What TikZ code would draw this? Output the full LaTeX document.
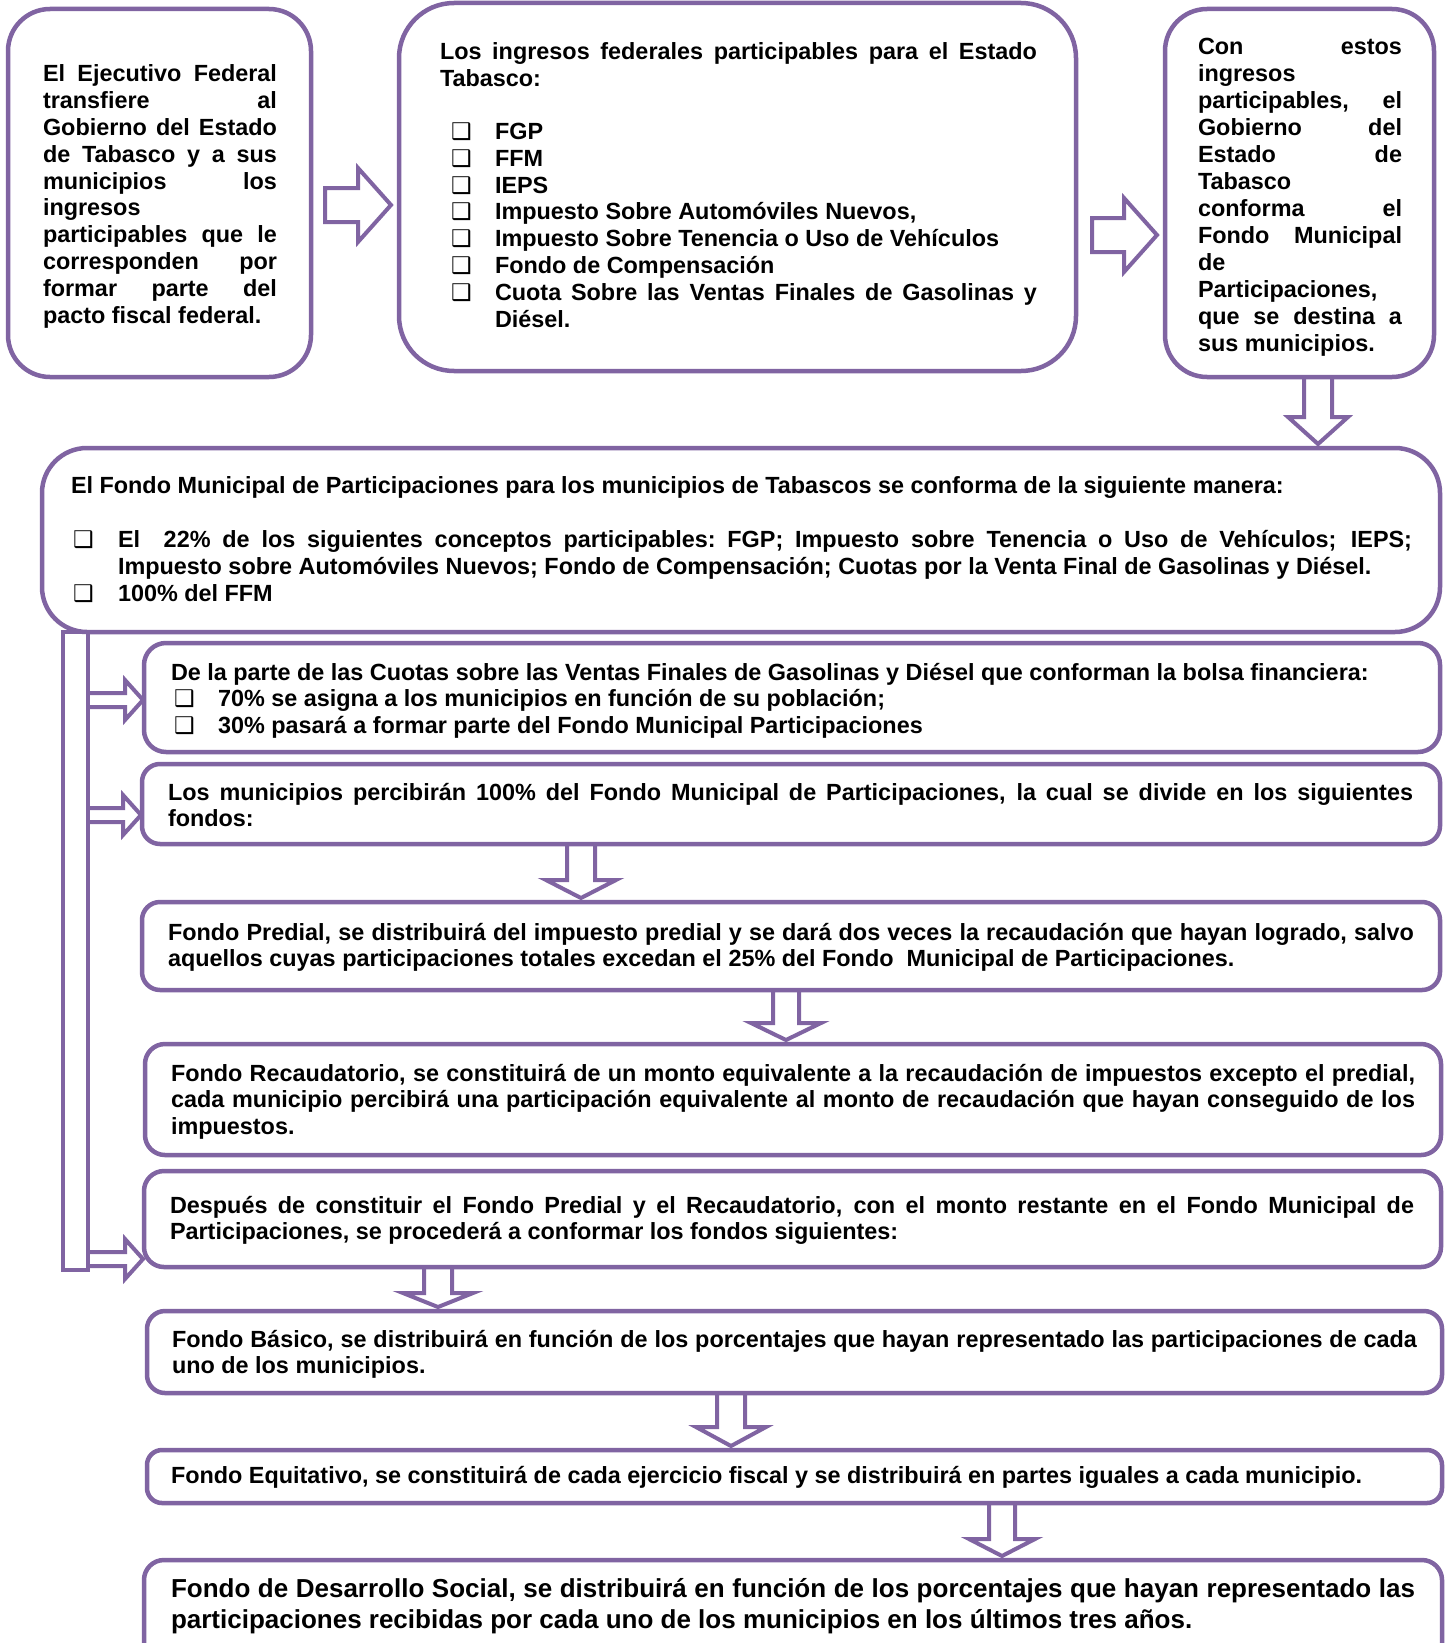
\documentclass[tikz,border=0pt]{standalone}
\usepackage{fontspec}
\setmainfont{Liberation Sans}
\newfontfamily\dejavu{DejaVu Sans}
\usetikzlibrary{calc}
\pgfdeclarelayer{bg}
\pgfsetlayers{bg,main}
\definecolor{pur}{RGB}{128,100,162}
\newlength\tw
\newcommand\SPa{\spaceskip=6.5pt plus 12pt minus 1.6pt\relax}
\newcommand\SPb{\spaceskip=7.2pt plus 12pt minus 1.6pt\relax}
\newcommand\JL[1]{\hbox to \tw{#1}}
\newcommand\LL[1]{\hbox to \tw{#1\hfil}}
\newcommand\BUL{{\dejavu\mdseries\fontsize{23}{23}\selectfont ❑}}
\newcommand\BJ[3]{\hbox to \tw{\hskip#1\relax\rlap{\BUL}\hskip#2\relax #3}}
\newcommand\BL[3]{\hbox to \tw{\hskip#1\relax\rlap{\BUL}\hskip#2\relax #3\hfil}}
\newcommand\CL[2]{\hbox to \tw{\hskip#1\relax #2\hfil}}
% down block arrow: cx, source node, target node, head length, shaft half, head half
\newcommand\DArr[6]{%
  \path (#1,0 |- #2.south) coordinate (ds);
  \path (#1,0 |- #3.north) coordinate (dt);
  \draw[arr] ($(ds)+(-#5,0)$) -- ($(dt)+(-#5,{-#4-4})$) -- ($(dt)+(-#6,{-#4-4})$) -- ($(dt)+(0,-4)$)
    -- ($(dt)+(#6,{-#4-4})$) -- ($(dt)+(#5,{-#4-4})$) -- ($(ds)+(#5,0)$);}
% right block arrow: y, source node, target node, gap at start, gap at end, head length, shaft half, head half
\newcommand\RArr[8]{%
  \path (#2.east |- 0,#1) coordinate (rs);
  \path (#3.west |- 0,#1) coordinate (re);
  \draw[arr] ($(rs)+(#4,-#7)$) -- ($(re)+({-#5-#6},-#7)$) -- ($(re)+({-#5-#6},-#8)$) -- ($(re)+(-#5,0)$)
    -- ($(re)+({-#5-#6},#8)$) -- ($(re)+({-#5-#6},#7)$) -- ($(rs)+(#4,#7)$) -- cycle;}
% small right arrow from the bar
\newcommand\SArr[2]{%
  \path (bar.east |- 0,#1) coordinate (ss);
  \path (#2.west |- 0,#1) coordinate (se);
  \draw[arr] ($(ss)+(0,-7)$) -- ($(se)+(-19,-7)$) -- ($(se)+(-19,-20)$) -- ($(se)+(-1,0)$)
    -- ($(se)+(-19,20)$) -- ($(se)+(-19,7)$) -- ($(ss)+(0,7)$);}
\begin{document}
\begin{tikzpicture}[x=1pt,y=-1pt,
  box/.style={draw=pur, line width=4.5pt, fill=white, inner sep=0pt, outer sep=0pt, anchor=north west},
  arr/.style={draw=pur, line width=4pt, fill=white, line join=miter},
  txt/.style={font=\fontsize{23.4}{26.8}\selectfont\bfseries, inner sep=0pt, outer sep=0pt, anchor=base west},
  txtb/.style={font=\fontsize{26}{31}\selectfont\bfseries, inner sep=0pt, outer sep=0pt, anchor=base west}]
\useasboundingbox (0,0) rectangle (1444,1643);
\begin{pgfonlayer}{bg}
\fill[white] (0,0) rectangle (1444,1643);
\end{pgfonlayer}

% bar
\node[box, minimum width=25pt, minimum height=638pt] (bar) at (63,632) {};

% boxes
\node[box, rounded corners=42pt, minimum width=303pt, minimum height=368pt] (b1) at (8,9) {};
\node[box, rounded corners=55pt, minimum width=677pt, minimum height=368pt] (b2) at (399,3) {};
\node[box, rounded corners=42pt, minimum width=269pt, minimum height=368pt] (b3) at (1165,9) {};
\node[box, rounded corners=45pt, minimum width=1398pt, minimum height=184pt] (b4) at (42,448) {};
\node[box, rounded corners=22pt, minimum width=1296pt, minimum height=109pt] (b5) at (144,643) {};
\node[box, rounded corners=18pt, minimum width=1298pt, minimum height=80pt] (b6) at (142,764) {};
\node[box, rounded corners=18pt, minimum width=1298pt, minimum height=88pt] (b7) at (142,902) {};
\node[box, rounded corners=20pt, minimum width=1296pt, minimum height=111pt] (b8) at (145,1044) {};
\node[box, rounded corners=20pt, minimum width=1297pt, minimum height=96pt] (b9) at (144,1171) {};
\node[box, rounded corners=18pt, minimum width=1295pt, minimum height=82pt] (b10) at (147,1311) {};
\node[box, rounded corners=15pt, minimum width=1295pt, minimum height=53pt] (b11) at (147,1450) {};
\node[box, rounded corners=20pt, minimum width=1298pt, minimum height=120pt] (b12) at (144,1560) {};

% arrows (behind the boxes)
\begin{pgfonlayer}{bg}
\RArr{205}{b1}{b2}{14}{8}{33}{17}{37}
\RArr{235}{b2}{b3}{16}{8}{33}{17}{37}
\DArr{1318}{b3}{b4}{27}{14}{30}
\DArr{581}{b6}{b7}{18}{14}{35}
\DArr{786}{b7}{b8}{17}{13}{35}
\DArr{438}{b9}{b10}{14}{14}{35}
\DArr{731}{b10}{b11}{19}{14}{35}
\DArr{1002}{b11}{b12}{17}{13}{33}
\SArr{700}{b5}
\SArr{815}{b6}
\SArr{1259}{b9}
\end{pgfonlayer}

% texts
\setlength\tw{234pt}
\node[txt, text width=234pt] (t1) at (43,82) {\SPa
\JL{El Ejecutivo Federal}
\JL{transfiere al}
\JL{Gobierno del Estado}
\JL{de Tabasco y a sus}
\JL{municipios los}
\LL{ingresos}
\JL{participables que le}
\JL{corresponden por}
\JL{formar parte del}
\LL{pacto fiscal federal.}};

\setlength\tw{597pt}
\node[txt, text width=597pt] (t2) at (440,60) {\SPa
\JL{Los ingresos federales participables para el Estado}
\LL{Tabasco:}
\vskip 26pt
\BL{11pt}{44pt}{FGP}
\BL{11pt}{44pt}{FFM}
\BL{11pt}{44pt}{IEPS}
\BL{11pt}{44pt}{Impuesto Sobre Automóviles Nuevos,}
\BL{11pt}{44pt}{Impuesto Sobre Tenencia o Uso de Vehículos}
\BL{11pt}{44pt}{Fondo de Compensación}
\BJ{11pt}{44pt}{Cuota Sobre las Ventas Finales de Gasolinas y}
\CL{55pt}{Diésel.}};

\setlength\tw{204pt}
\node[txt, font=\fontsize{23.4}{27}\selectfont\bfseries, text width=204pt] (t3) at (1198,55) {\SPa
\JL{Con estos}
\LL{ingresos}
\JL{participables, el}
\JL{Gobierno del}
\JL{Estado de}
\LL{Tabasco}
\JL{conforma el}
\JL{Fondo Municipal}
\LL{de}
\LL{Participaciones,}
\JL{que se destina a}
\LL{sus municipios.}};

\setlength\tw{1341pt}
\node[txt, text width=1341pt] (t4) at (71,493) {\SPa
\LL{El Fondo Municipal de Participaciones para los municipios de Tabascos se conforma de la siguiente manera:}
\vskip 28pt
\BJ{2pt}{45pt}{El\ \ 22\% de los siguientes conceptos participables: FGP; Impuesto sobre Tenencia o Uso de Vehículos; IEPS;}
\CL{47pt}{Impuesto sobre Automóviles Nuevos; Fondo de Compensación; Cuotas por la Venta Final de Gasolinas y Diésel.}
\BL{2pt}{45pt}{100\% del FFM}};

\setlength\tw{1241pt}
\node[txt, text width=1241pt] (t5) at (171,680) {\SPa
\LL{De la parte de las Cuotas sobre las Ventas Finales de Gasolinas y Diésel que conforman la bolsa financiera:}
\BL{3pt}{44pt}{70\% se asigna a los municipios en función de su población;}
\BL{3pt}{44pt}{30\% pasará a formar parte del Fondo Municipal Participaciones}};

\setlength\tw{1245pt}
\node[txt, text width=1245pt] (t6) at (168,800) {\SPa
\JL{Los municipios percibirán 100\% del Fondo Municipal de Participaciones, la cual se divide en los siguientes}
\LL{fondos:}};

\setlength\tw{1246pt}
\node[txt, text width=1246pt] (t7) at (168,940) {\SPa
\JL{Fondo Predial, se distribuirá del impuesto predial y se dará dos veces la recaudación que hayan logrado, salvo}
\LL{aquellos cuyas participaciones totales excedan el 25\% del Fondo\ \ Municipal de Participaciones.}};

\setlength\tw{1244pt}
\node[txt, text width=1244pt] (t8) at (171,1081) {\SPa
\JL{Fondo Recaudatorio, se constituirá de un monto equivalente a la recaudación de impuestos excepto el predial,}
\JL{cada municipio percibirá una participación equivalente al monto de recaudación que hayan conseguido de los}
\LL{impuestos.}};

\setlength\tw{1244pt}
\node[txt, text width=1244pt] (t9) at (170,1213) {\SPa
\JL{Después de constituir el Fondo Predial y el Recaudatorio, con el monto restante en el Fondo Municipal de}
\LL{Participaciones, se procederá a conformar los fondos siguientes:}};

\setlength\tw{1245pt}
\node[txt, text width=1245pt] (t10) at (172,1347) {\SPa
\JL{Fondo Básico, se distribuirá en función de los porcentajes que hayan representado las participaciones de cada}
\LL{uno de los municipios.}};

\setlength\tw{1245pt}
\node[txt, text width=1245pt] (t11) at (171,1483) {\SPa
\LL{Fondo Equitativo, se constituirá de cada ejercicio fiscal y se distribuirá en partes iguales a cada municipio.}};

\setlength\tw{1244pt}
\node[txtb, text width=1244pt] (t12) at (171,1597) {\SPb
\JL{Fondo de Desarrollo Social, se distribuirá en función de los porcentajes que hayan representado las}
\LL{participaciones recibidas por cada uno de los municipios en los últimos tres años.}};
\end{tikzpicture}
\end{document}
